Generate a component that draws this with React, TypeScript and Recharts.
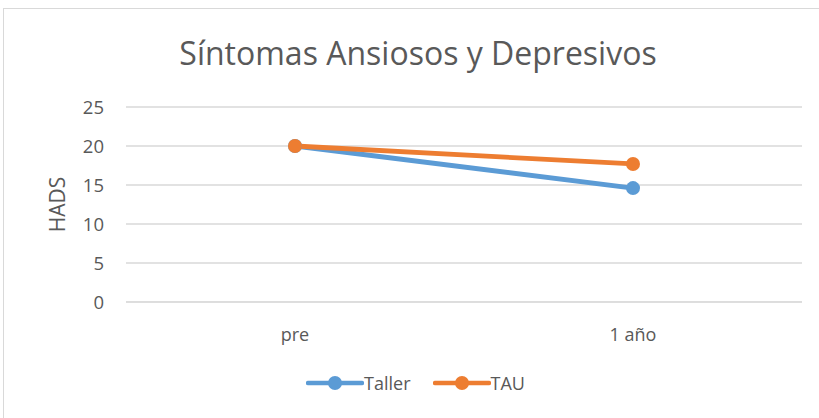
import React from 'react';
import { LineChart, Line, XAxis, YAxis, CartesianGrid, Legend, Label } from 'recharts';

const categories = ['pre', '1 año'];
const tallerValues = [20, 14.6];
const tauValues = [20, 17.7];
const yTicks = [0, 5, 10, 15, 20, 25];
const seriesOrder = ['Taller', 'TAU'];

const data = categories.map((c, i) => ({ name: c, Taller: tallerValues[i], TAU: tauValues[i] }));

const FONT = '"Open Sans", "Noto Sans", sans-serif';
const TEXT = '#595959';

const LegendContent = ({ payload }: any) => {
  const items = [...(payload || [])].sort(
    (a: any, b: any) => seriesOrder.indexOf(a.value) - seriesOrder.indexOf(b.value)
  );
  return (
    <div style={{ display: 'flex', justifyContent: 'center', fontFamily: FONT, fontSize: 18, color: TEXT }}>
      {items.map((p: any) => (
        <div key={p.value} style={{ display: 'flex', alignItems: 'center', marginRight: 22 }}>
          <svg width={58} height={16}>
            <line x1={2} y1={8} x2={56} y2={8} stroke={p.color} strokeWidth={4.5} strokeLinecap="round" />
            <circle cx={29} cy={8} r={7} fill={p.color} />
          </svg>
          <span>{p.value}</span>
        </div>
      ))}
    </div>
  );
};

const App: React.FC = () => {
  return (
    <div style={{ position: 'absolute', left: 0, top: 0, width: 819, height: 418, background: '#fff' }}>
      <div
        style={{
          position: 'absolute', left: 3, top: 8, width: 816, height: 410,
          border: '1px solid #d9d9d9', borderRight: 'none', borderBottom: 'none', boxSizing: 'border-box',
        }}
      />
      <div
        style={{
          position: 'absolute', left: 0, top: 31, width: 836, textAlign: 'center',
          fontFamily: FONT, fontSize: 32, color: TEXT,
        }}
      >
        Síntomas Ansiosos y Depresivos
      </div>
      <div style={{ position: 'absolute', left: 0, top: 0 }}>
        <LineChart width={819} height={418} data={data} margin={{ top: 107, right: 17, left: 0, bottom: 66 }}>
          <CartesianGrid vertical={false} stroke="#d9d9d9" strokeWidth={1.3} />
          <XAxis
            dataKey="name"
            axisLine={{ stroke: '#d9d9d9' }}
            tickLine={false}
            padding={{ left: 169, right: 169 }}
            tick={{ fill: TEXT, fontSize: 18, fontFamily: FONT }}
            tickMargin={20}
            height={50}
          />
          <YAxis
            domain={[0, 25]}
            ticks={yTicks}
            axisLine={false}
            tickLine={false}
            width={126}
            tick={{ fill: TEXT, fontSize: 18.5, fontFamily: FONT }}
            tickMargin={16}
          >
            <Label
              value="HADS"
              angle={-90}
              position="insideLeft"
              offset={58}
              style={{ fill: TEXT, fontSize: 21, fontFamily: FONT, textAnchor: 'middle' }}
            />
          </YAxis>
          <Legend
            layout="horizontal"
            verticalAlign="middle"
            align="center"
            content={<LegendContent />}
            wrapperStyle={{ position: 'absolute', top: 371, left: 17, width: 819 }}
          />
          <Line
            dataKey="Taller"
            stroke="#5B9BD5"
            strokeWidth={4.8}
            dot={{ r: 7, fill: '#5B9BD5', stroke: '#5B9BD5', strokeWidth: 0 }}
            isAnimationActive={false}
          />
          <Line
            dataKey="TAU"
            stroke="#ED7D31"
            strokeWidth={4.8}
            dot={{ r: 7, fill: '#ED7D31', stroke: '#ED7D31', strokeWidth: 0 }}
            isAnimationActive={false}
          />
        </LineChart>
      </div>
    </div>
  );
};

export default App;
